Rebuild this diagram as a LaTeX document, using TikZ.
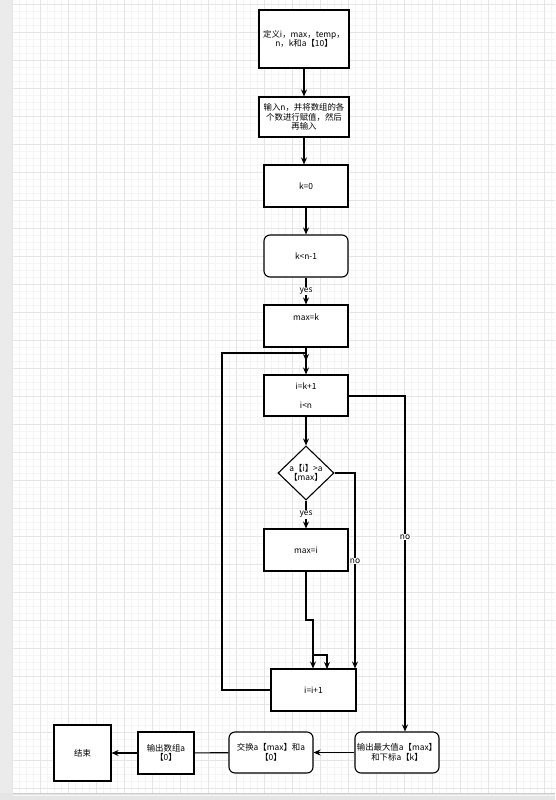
\documentclass[tikz,border=0pt]{standalone}
\usepackage{fontspec}
\setmainfont{Noto Sans CJK SC}
\usetikzlibrary{shapes.geometric, arrows.meta}

\begin{document}
\begin{tikzpicture}[x=1pt, y=-1pt, >={Stealth[length=7pt, width=6pt]},
  every node/.style={font=\fontsize{8.4}{9.5}\selectfont, align=center},
  box/.style={draw, line width=1.1pt, rectangle, minimum width=84pt, minimum height=42pt, inner sep=1pt},
  rbox/.style={box, rounded corners=6pt},
  cond/.style={draw, line width=1.1pt, diamond, minimum width=56pt, minimum height=54pt, inner sep=0pt},
  lbl/.style={fill=white, inner sep=1pt},
  flow/.style={line width=1.1pt}]
  % page and grid
  \useasboundingbox (0,0) rectangle (555,800);
  \fill [black!8] (0,0) rectangle (13,800);
  \fill [black!10] (0,793) rectangle (555,800);
  \draw [black!20, line width=.5pt] (13,793) -- (555,793);
  \foreach \i in {0,...,77} \draw [black!4, line width=.4pt] ({12+7*\i},0) -- ++(0,793);
  \foreach \i in {0,...,113} \draw [black!4, line width=.4pt] (13,{4+7*\i}) -- ++(542,0);
  \foreach \i in {0,...,19} \draw [black!10, line width=.5pt] ({12+28*\i},0) -- ++(0,793);
  \foreach \i in {0,...,28} \draw [black!10, line width=.5pt] (13,{4+28*\i}) -- ++(542,0);

  \node [box, fill=white, minimum width=90pt, minimum height=58pt] (def) at (304, 39) {定义i，max，temp，\\n，k和a【10】};
  \node [box, fill=white, minimum width=90pt, minimum height=40pt] (input) at (304, 117) {输入n，并将数组的各\\个数进行赋值，然后\\再输入};
  \node [box, fill=white] (k0) at (306, 186) {k=0};
  \node [rbox, fill=white] (kcond) at (306, 256) {k<n-1};
  \node [box, fill=white] (maxk) at (306, 326) {max=k\\[8.5pt]\mbox{}};
  \node [box, fill=white, minimum height=41pt] (loop) at (306, 395.5) {i=k+1\\[9.5pt]i<n};
  \node [cond, fill=white] (dia) at (306, 473) {a【i】>a\\【max】};
  \node [box, fill=white] (maxi) at (306, 550) {max=i};
  \node [box, fill=white, minimum width=85pt] (inc) at (313.5, 690) {i=i+1};
  \node [rbox, fill=white, minimum height=41pt] (out) at (397, 752.5) {输出最大值a【max】\\和下标a【k】};
  \node [rbox, fill=white, minimum height=41pt] (swap) at (271, 752.5) {交换a【max】和a\\【0】};
  \node [box, fill=white, minimum width=56pt] (printa) at (166, 753) {输出数组a\\【0】};
  \node [box, fill=white, minimum width=57pt, minimum height=56pt] (end) at (82.5, 753) {结束};

  \coordinate (join) at (306, 361);
  \coordinate (lft) at (222, 353);
  \coordinate (rgt) at (405, 396);
  \coordinate (dno) at (355, 473);
  \coordinate (bend) at (313, 620);
  \coordinate (split) at (313, 655);
  \coordinate (twin) at (327, 669);

  \draw [flow, ->] (def) -- (def |- input.north);
  \draw [flow, ->] (input) -- (input.south |- k0.north);
  \draw [flow, ->] (k0) -- (kcond);
  \draw [flow, ->] (kcond) -- node [lbl] {yes} (maxk);
  \draw [flow, ->] (maxk) -- (join);
  \draw [flow, ->] (inc) -| (lft) -- (lft -| loop) -- (loop);
  \draw [flow, ->] (loop) -- (dia);
  \draw [flow, ->] (loop.east |- rgt) -- (rgt) -- node [lbl, pos=.42] {no} (rgt |- out.north);
  \draw [flow, ->] (dia) -- node [lbl] {yes} (maxi);
  \draw [flow, ->] (dia.east) -- (dno) -- node [lbl, pos=.45] {no} (dno |- inc.north);
  \draw [flow, ->] (maxi) |- (bend) -- (bend |- inc.north);
  \draw [flow, ->] (split) -| (twin);
  \draw [flow, ->] (out) -- (swap);
  \draw [flow] (swap) -- (printa);
  \draw [flow, ->] (printa) -- (end);
\end{tikzpicture}
\end{document}
